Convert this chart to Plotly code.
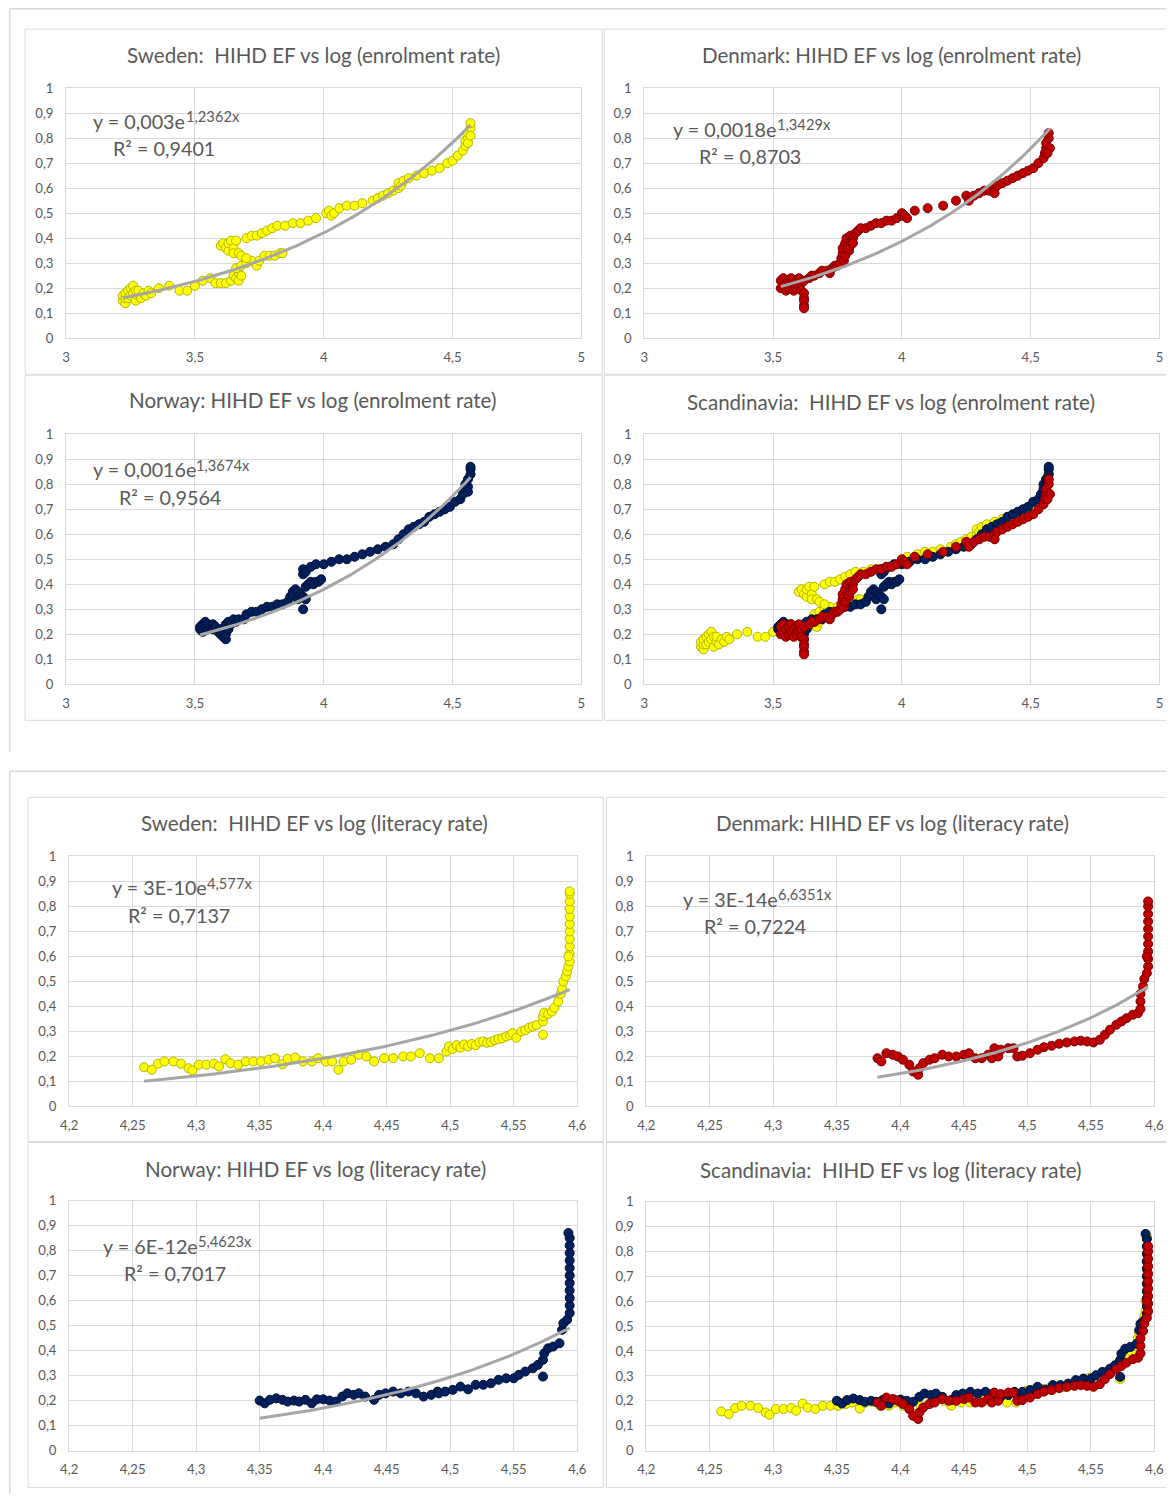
import numpy as np
import plotly.graph_objects as go

# ---------------------------------------------------------------------------
# Data: HIHD EF against log(enrolment rate) and log(literacy rate)
# ---------------------------------------------------------------------------
swe_enrol_x = [
    3.22, 3.22, 3.23, 3.23, 3.23, 3.24, 3.24, 3.25, 3.25, 3.26,
    3.26, 3.27, 3.27, 3.28, 3.28, 3.29, 3.30, 3.31, 3.32, 3.33,
    3.36, 3.40, 3.44, 3.47, 3.50, 3.53, 3.56, 3.58, 3.60, 3.62,
    3.64, 3.65, 3.66, 3.67, 3.67, 3.68, 3.66, 3.68, 3.70, 3.72,
    3.74, 3.75, 3.77, 3.79, 3.81, 3.83, 3.84, 3.60, 3.61, 3.62,
    3.63, 3.63, 3.64, 3.65, 3.65, 3.66, 3.67, 3.68, 3.70, 3.70,
    3.72, 3.74, 3.76, 3.78, 3.80, 3.82, 3.85, 3.88, 3.91, 3.94,
    3.97, 4.01, 4.02, 4.03, 4.04, 4.06, 4.09, 4.12, 4.15, 4.19,
    4.21, 4.23, 4.25, 4.27, 4.29, 4.29, 4.30, 4.31, 4.33, 4.36,
    4.39, 4.42, 4.45, 4.48, 4.50, 4.52, 4.54, 4.55, 4.55, 4.56,
    4.56, 4.57, 4.57, 4.56, 4.57,
]
swe_enrol_y = [
    0.15, 0.17, 0.14, 0.16, 0.18, 0.19, 0.16, 0.20, 0.17, 0.21,
    0.18, 0.15, 0.19, 0.17, 0.19, 0.16, 0.18, 0.17, 0.19, 0.18,
    0.20, 0.21, 0.19, 0.19, 0.21, 0.23, 0.24, 0.22, 0.22, 0.22,
    0.23, 0.25, 0.24, 0.26, 0.23, 0.25, 0.28, 0.29, 0.30, 0.31,
    0.29, 0.31, 0.33, 0.33, 0.33, 0.34, 0.34, 0.37, 0.38, 0.36,
    0.35, 0.38, 0.39, 0.36, 0.34, 0.39, 0.34, 0.33, 0.32, 0.40,
    0.41, 0.41, 0.42, 0.43, 0.44, 0.45, 0.45, 0.46, 0.46, 0.47,
    0.48, 0.50, 0.51, 0.49, 0.50, 0.52, 0.53, 0.53, 0.54, 0.55,
    0.56, 0.57, 0.58, 0.59, 0.60, 0.62, 0.61, 0.63, 0.64, 0.65,
    0.66, 0.67, 0.68, 0.70, 0.71, 0.73, 0.75, 0.77, 0.79, 0.80,
    0.82, 0.84, 0.86, 0.78, 0.81,
]

den_enrol_x = [
    3.53, 3.53, 3.54, 3.54, 3.55, 3.55, 3.56, 3.56, 3.57, 3.57,
    3.58, 3.58, 3.59, 3.59, 3.60, 3.60, 3.61, 3.61, 3.62, 3.62,
    3.62, 3.62, 3.62, 3.62, 3.64, 3.65, 3.66, 3.68, 3.69, 3.71,
    3.72, 3.73, 3.74, 3.75, 3.76, 3.765, 3.77, 3.77, 3.775, 3.78,
    3.78, 3.785, 3.79, 3.795, 3.80, 3.80, 3.81, 3.79, 3.80, 3.81,
    3.82, 3.83, 3.84, 3.86, 3.88, 3.90, 3.92, 3.94, 3.96, 3.98,
    4.00, 4.00, 4.01, 4.02, 4.05, 4.10, 4.16, 4.21, 4.25, 4.26,
    4.28, 4.30, 4.32, 4.34, 4.36, 4.36, 4.37, 4.39, 4.41, 4.43,
    4.45, 4.47, 4.49, 4.51, 4.53, 4.55, 4.555, 4.56, 4.56, 4.57,
    4.57, 4.575, 4.565,
]
den_enrol_y = [
    0.23, 0.20, 0.24, 0.21, 0.22, 0.19, 0.23, 0.20, 0.24, 0.21,
    0.22, 0.19, 0.23, 0.20, 0.24, 0.21, 0.22, 0.19, 0.23, 0.18,
    0.16, 0.15, 0.13, 0.12, 0.24, 0.25, 0.25, 0.26, 0.27, 0.27,
    0.26, 0.28, 0.29, 0.29, 0.30, 0.32, 0.34, 0.36, 0.31, 0.33,
    0.38, 0.40, 0.37, 0.35, 0.39, 0.41, 0.40, 0.36, 0.37, 0.38,
    0.42, 0.43, 0.44, 0.44, 0.45, 0.46, 0.46, 0.47, 0.47, 0.48,
    0.49, 0.50, 0.49, 0.48, 0.51, 0.52, 0.53, 0.55, 0.57, 0.55,
    0.57, 0.58, 0.59, 0.59, 0.60, 0.58, 0.61, 0.62, 0.63, 0.64,
    0.65, 0.66, 0.67, 0.68, 0.70, 0.72, 0.74, 0.76, 0.78, 0.80,
    0.82, 0.76, 0.74,
]

nor_enrol_x = [
    3.52, 3.52, 3.53, 3.53, 3.54, 3.54, 3.55, 3.55, 3.56, 3.57,
    3.57, 3.58, 3.59, 3.60, 3.60, 3.61, 3.61, 3.62, 3.62, 3.63,
    3.62, 3.63, 3.64, 3.65, 3.66, 3.67, 3.69, 3.70, 3.72, 3.74,
    3.76, 3.78, 3.80, 3.82, 3.84, 3.86, 3.87, 3.88, 3.88, 3.89,
    3.90, 3.90, 3.91, 3.92, 3.92, 3.93, 3.93, 3.94, 3.95, 3.96,
    3.97, 3.98, 3.99, 3.92, 3.92, 3.93, 3.95, 3.97, 4.00, 4.03,
    4.06, 4.09, 4.12, 4.15, 4.18, 4.21, 4.24, 4.27, 4.29, 4.31,
    4.33, 4.35, 4.37, 4.39, 4.41, 4.43, 4.45, 4.47, 4.49, 4.51,
    4.53, 4.54, 4.55, 4.55, 4.56, 4.56, 4.57, 4.57, 4.57, 4.56,
]
nor_enrol_y = [
    0.23, 0.22, 0.24, 0.21, 0.23, 0.25, 0.22, 0.24, 0.23, 0.24,
    0.22, 0.23, 0.21, 0.22, 0.20, 0.19, 0.21, 0.18, 0.20, 0.22,
    0.24, 0.25, 0.24, 0.26, 0.25, 0.26, 0.26, 0.28, 0.29, 0.29,
    0.30, 0.31, 0.31, 0.32, 0.32, 0.33, 0.35, 0.37, 0.36, 0.38,
    0.37, 0.34, 0.36, 0.30, 0.35, 0.34, 0.39, 0.40, 0.41, 0.40,
    0.41, 0.41, 0.42, 0.44, 0.46, 0.45, 0.47, 0.48, 0.48, 0.49,
    0.50, 0.50, 0.51, 0.52, 0.53, 0.54, 0.55, 0.56, 0.58, 0.60,
    0.62, 0.63, 0.64, 0.65, 0.67, 0.68, 0.69, 0.70, 0.71, 0.73,
    0.74, 0.76, 0.78, 0.80, 0.79, 0.82, 0.84, 0.86, 0.87, 0.77,
]

swe_lit_x = [
    4.259, 4.265, 4.270, 4.275, 4.282, 4.288, 4.294, 4.297, 4.302, 4.308,
    4.314, 4.318, 4.323, 4.327, 4.333, 4.339, 4.345, 4.351, 4.357, 4.362,
    4.368, 4.372, 4.378, 4.384, 4.391, 4.396, 4.402, 4.407, 4.412, 4.416,
    4.422, 4.428, 4.434, 4.440, 4.448, 4.455, 4.463, 4.469, 4.476, 4.484,
    4.491, 4.497, 4.499, 4.502, 4.505, 4.508, 4.511, 4.514, 4.517, 4.520,
    4.523, 4.526, 4.529, 4.532, 4.535, 4.538, 4.541, 4.544, 4.547, 4.549,
    4.552, 4.556, 4.559, 4.562, 4.565, 4.568, 4.573, 4.573, 4.573, 4.574,
    4.577, 4.580, 4.582, 4.585, 4.587, 4.588, 4.589, 4.591, 4.592, 4.593,
    4.594, 4.594, 4.594, 4.594, 4.594, 4.594, 4.594, 4.594, 4.594, 4.594,
    4.594, 4.593,
]
swe_lit_y = [
    0.157, 0.147, 0.171, 0.180, 0.180, 0.171, 0.153, 0.144, 0.167, 0.167,
    0.171, 0.160, 0.189, 0.173, 0.167, 0.180, 0.180, 0.180, 0.187, 0.193,
    0.169, 0.191, 0.196, 0.180, 0.180, 0.193, 0.180, 0.180, 0.147, 0.180,
    0.187, 0.207, 0.200, 0.180, 0.193, 0.193, 0.200, 0.200, 0.213, 0.193,
    0.193, 0.220, 0.240, 0.230, 0.245, 0.235, 0.248, 0.240, 0.250, 0.245,
    0.257, 0.260, 0.255, 0.258, 0.265, 0.270, 0.273, 0.280, 0.285, 0.293,
    0.275, 0.300, 0.305, 0.315, 0.320, 0.325, 0.287, 0.340, 0.360, 0.375,
    0.370, 0.380, 0.395, 0.420, 0.450, 0.470, 0.500, 0.520, 0.540, 0.560,
    0.580, 0.610, 0.640, 0.670, 0.700, 0.730, 0.760, 0.790, 0.820, 0.850,
    0.860, 0.600,
]

den_lit_x = [
    4.382, 4.385, 4.389, 4.394, 4.398, 4.402, 4.407, 4.410, 4.414, 4.415,
    4.418, 4.423, 4.427, 4.433, 4.438, 4.444, 4.450, 4.454, 4.459, 4.464,
    4.469, 4.472, 4.474, 4.477, 4.479, 4.485, 4.489, 4.492, 4.496, 4.502,
    4.508, 4.513, 4.519, 4.525, 4.531, 4.537, 4.542, 4.547, 4.552, 4.557,
    4.561, 4.565, 4.570, 4.574, 4.578, 4.583, 4.587, 4.589, 4.589, 4.589,
    4.591, 4.592, 4.594, 4.595, 4.595, 4.595, 4.595, 4.595, 4.595, 4.595,
    4.595, 4.595, 4.595, 4.594,
]
den_lit_y = [
    0.193, 0.180, 0.213, 0.207, 0.200, 0.187, 0.167, 0.140, 0.127, 0.153,
    0.173, 0.187, 0.193, 0.207, 0.200, 0.200, 0.207, 0.213, 0.193, 0.193,
    0.207, 0.193, 0.233, 0.200, 0.227, 0.233, 0.233, 0.200, 0.203, 0.213,
    0.227, 0.237, 0.243, 0.251, 0.256, 0.260, 0.263, 0.260, 0.256, 0.267,
    0.287, 0.307, 0.327, 0.340, 0.353, 0.367, 0.373, 0.390, 0.420, 0.450,
    0.480, 0.510, 0.533, 0.560, 0.590, 0.620, 0.650, 0.680, 0.710, 0.740,
    0.770, 0.800, 0.820, 0.600,
]

nor_lit_x = [
    4.350, 4.354, 4.358, 4.363, 4.368, 4.372, 4.377, 4.381, 4.386, 4.391,
    4.395, 4.400, 4.405, 4.410, 4.415, 4.419, 4.424, 4.428, 4.433, 4.440,
    4.444, 4.449, 4.455, 4.461, 4.467, 4.473, 4.479, 4.485, 4.490, 4.491,
    4.496, 4.502, 4.508, 4.514, 4.520, 4.526, 4.532, 4.538, 4.544, 4.550,
    4.554, 4.559, 4.565, 4.569, 4.573, 4.573, 4.574, 4.577, 4.581, 4.586,
    4.588, 4.589, 4.592, 4.594, 4.594, 4.594, 4.594, 4.594, 4.594, 4.594,
    4.594, 4.594, 4.594, 4.594, 4.593,
]
nor_lit_y = [
    0.200, 0.189, 0.203, 0.209, 0.203, 0.196, 0.200, 0.196, 0.203, 0.189,
    0.205, 0.205, 0.200, 0.196, 0.216, 0.229, 0.223, 0.229, 0.216, 0.203,
    0.223, 0.229, 0.236, 0.229, 0.236, 0.229, 0.216, 0.223, 0.236, 0.229,
    0.236, 0.243, 0.256, 0.245, 0.263, 0.263, 0.269, 0.283, 0.289, 0.289,
    0.303, 0.316, 0.329, 0.343, 0.296, 0.363, 0.389, 0.409, 0.416, 0.429,
    0.483, 0.509, 0.523, 0.550, 0.580, 0.610, 0.640, 0.670, 0.700, 0.730,
    0.760, 0.790, 0.820, 0.850, 0.870,
]

# Exponential trend lines y = a * exp(b * x) (Sweden, Denmark, Norway)
enrol_fit_a = [0.003, 0.0018, 0.0016]
enrol_fit_b = [1.2362, 1.3429, 1.3674]
enrol_fit_r2 = [0.9401, 0.8703, 0.9564]
lit_fit_a = [3.45e-10, 2.75e-14, 6.2e-12]
lit_fit_b = [4.577, 6.6351, 5.4623]
lit_fit_r2 = [0.7137, 0.7224, 0.7017]

countries = ["Sweden", "Denmark", "Norway"]

# Axis ticks
enrol_x_ticks = [3, 3.5, 4, 4.5, 5]
enrol_x_labels = ["3", "3,5", "4", "4,5", "5"]
lit_x_ticks = [4.2, 4.25, 4.3, 4.35, 4.4, 4.45, 4.5, 4.55, 4.6]
lit_x_labels = ["4,2", "4,25", "4,3", "4,35", "4,4", "4,45", "4,5", "4,55", "4,6"]
y_ticks = [0, 0.1, 0.2, 0.3, 0.4, 0.5, 0.6, 0.7, 0.8, 0.9, 1]
y_labels = ["0", "0,1", "0,2", "0,3", "0,4", "0,5", "0,6", "0,7", "0,8", "0,9", "1"]

# ---------------------------------------------------------------------------
# Page geometry: positions below are given in final page pixels; the page
# is shown slightly scaled (SX, SY) with an 8 px body margin around the figure.
# ---------------------------------------------------------------------------
PAD = 8
SX, SY = 0.9844, 0.989
W, H = 1176, 1503            # figure size
FONT = "Lato"
TEXT = "#595959"
GRID = "#d9d9d9"
TREND = "#a6a6a6"
COLORS = {
    "Sweden": ("#ffff00", "#b3b300"),
    "Denmark": ("#c00000", "#7a0000"),
    "Norway": ("#002060", "#00102f"),
}


def fx(x):
    return min(max(x / SX - PAD, 0.75), W - 0.75)


def fy(y):
    return min(max(y / SY - PAD, 0.75), H - 0.75)


def px(x):
    return fx(x) / W


def py(y):
    return 1 - fy(y) / H


def fs(size):
    return size / ((SX + SY) / 2)


def dec(v, nd):
    s = f"{v:.{nd}f}".rstrip("0").rstrip(".")
    return s.replace(".", ",")


def coef_text(a):
    if a >= 1e-4:
        return f"{a:.4g}".replace(".", ",")
    return f"{a:.0E}"


enrol_sets = [(swe_enrol_x, swe_enrol_y), (den_enrol_x, den_enrol_y), (nor_enrol_x, nor_enrol_y)]
lit_sets = [(swe_lit_x, swe_lit_y), (den_lit_x, den_lit_y), (nor_lit_x, nor_lit_y)]

# plot areas: left, right, top, bottom
areas = [
    (65, 580, 88, 338),
    (643, 1158, 88, 338),
    (65, 580, 434, 684),
    (643, 1158, 434, 684),
    (68, 576, 856, 1106),
    (645, 1153, 856, 1106),
    (68, 576, 1200, 1450),
    (645, 1153, 1201, 1450),
]
# chart boxes: left, right, top, bottom, right edge visible
boxes = [
    (24, 601, 29, 374, True),
    (603, 1174, 29, 374, False),
    (24, 601, 375, 720, True),
    (603, 1174, 375, 720, False),
    (27, 602, 797, 1141, True),
    (605, 1174, 797, 1141, False),
    (27, 602, 1142, 1487, True),
    (605, 1174, 1142, 1487, False),
]
titles = [
    "Sweden:  HIHD EF vs log (enrolment rate)",
    "Denmark: HIHD EF vs log (enrolment rate)",
    "Norway: HIHD EF vs log (enrolment rate)",
    "Scandinavia:  HIHD EF vs log (enrolment rate)",
    "Sweden:  HIHD EF vs log (literacy rate)",
    "Denmark: HIHD EF vs log (literacy rate)",
    "Norway: HIHD EF vs log (literacy rate)",
    "Scandinavia:  HIHD EF vs log (literacy rate)",
]
title_pos = [(312, 55), (890, 55), (312, 400), (890, 402),
             (313, 823), (891, 823), (314, 1168), (890, 1169)]
# equation label anchors:
# (equation left x, equation y, exponent left x, exponent y, R² left x, R² y)
eq_pos = [(90, 121, 183, 116, 110, 148),
          (670, 129, 774, 124, 696, 156),
          (90, 469, 193, 465, 116, 497),
          None,
          (109, 887, 204, 883, 125, 915),
          (680, 899, 775, 894, 701, 926),
          (100, 1245, 195, 1241, 121, 1272),
          None]

fig = go.Figure()
annotations = []
shapes = []


def add_points(panel, xs, ys, country):
    fill, edge = COLORS[country]
    sfx = "" if panel == 1 else str(panel)
    fig.add_trace(go.Scatter(
        x=xs, y=ys, mode="markers", xaxis="x" + sfx, yaxis="y" + sfx,
        marker=dict(size=9, color=fill, line=dict(color=edge, width=1)),
        name=country, hoverinfo="x+y",
    ))


def add_trend(panel, xs, a, b):
    sfx = "" if panel == 1 else str(panel)
    tx = np.linspace(min(xs), max(xs), 120)
    ty = a * np.exp(b * tx)
    fig.add_trace(go.Scatter(
        x=tx, y=ty, mode="lines", xaxis="x" + sfx, yaxis="y" + sfx,
        line=dict(color=TREND, width=3), hoverinfo="skip",
    ))


def note(text, x, y, size, anchor="left"):
    annotations.append(dict(text=text, x=px(x), y=py(y),
                            xref="paper", yref="paper", xanchor=anchor,
                            yanchor="middle", showarrow=False,
                            font=dict(family=FONT, size=fs(size), color=TEXT)))


def hline(x0, x1, y, width=1.0):
    shapes.append(dict(type="line", xref="paper", yref="paper",
                       x0=px(x0), x1=px(x1), y0=py(y), y1=py(y),
                       line=dict(color=GRID, width=width), layer="below"))


def vline(x, y0, y1, width=1.0):
    shapes.append(dict(type="line", xref="paper", yref="paper",
                       x0=px(x), x1=px(x), y0=py(y0), y1=py(y1),
                       line=dict(color=GRID, width=width), layer="below"))


# single-country panels
for i in range(3):
    panel = [1, 2, 3][i]
    xs, ys = enrol_sets[i]
    add_points(panel, xs, ys, countries[i])
    add_trend(panel, xs, enrol_fit_a[i], enrol_fit_b[i])
for i in range(3):
    panel = [5, 6, 7][i]
    xs, ys = lit_sets[i]
    add_points(panel, xs, ys, countries[i])
    add_trend(panel, xs, lit_fit_a[i], lit_fit_b[i])

# Scandinavia panels: Sweden, then Norway, then Denmark on top
for panel, sets in ((4, enrol_sets), (8, lit_sets)):
    for i in (0, 2, 1):
        add_points(panel, sets[i][0], sets[i][1], countries[i])

layout = dict(
    width=W, height=H, autosize=False, margin=dict(l=0, r=0, t=0, b=0),
    paper_bgcolor="white", plot_bgcolor="white", showlegend=False,
    font=dict(family=FONT, color=TEXT),
)

for p in range(1, 9):
    left, right, top, bottom = areas[p - 1]
    enrol = p <= 4
    sfx = "" if p == 1 else str(p)
    layout["xaxis" + sfx] = dict(
        domain=[px(left), px(right)], anchor="y" + sfx,
        range=[3, 5] if enrol else [4.2, 4.6],
        tickmode="array",
        tickvals=enrol_x_ticks if enrol else lit_x_ticks,
        ticktext=enrol_x_labels if enrol else lit_x_labels,
        showgrid=True, gridcolor=GRID, gridwidth=1,
        showline=True, linecolor=GRID, linewidth=1, mirror=True,
        zeroline=False, ticks="outside", ticklen=7, tickcolor="rgba(0,0,0,0)",
        tickfont=dict(family=FONT, size=fs(13), color=TEXT), fixedrange=True,
    )
    layout["yaxis" + sfx] = dict(
        domain=[py(bottom), py(top)], anchor="x" + sfx,
        range=[0, 1], tickmode="array", tickvals=y_ticks, ticktext=y_labels,
        showgrid=True, gridcolor=GRID, gridwidth=1,
        showline=True, linecolor=GRID, linewidth=1, mirror=True,
        zeroline=False, ticks="outside", ticklen=9, tickcolor="rgba(0,0,0,0)",
        tickfont=dict(family=FONT, size=fs(13), color=TEXT), fixedrange=True,
    )

    # chart box
    bl, br, bt, bb, right_edge = boxes[p - 1]
    hline(bl, br, bt)
    hline(bl, br, bb)
    vline(bl, bt, bb)
    if right_edge:
        vline(br, bt, bb)

    tx, ty = title_pos[p - 1]
    note(titles[p - 1], tx, ty, 20.3, anchor="center")

    eq = eq_pos[p - 1]
    if eq is not None:
        k = (p - 1) % 4
        if enrol:
            a, b, r2 = enrol_fit_a[k], enrol_fit_b[k], enrol_fit_r2[k]
        else:
            a, b, r2 = lit_fit_a[k], lit_fit_b[k], lit_fit_r2[k]
        note(f"y = {coef_text(a)}e", eq[0], eq[1], 19.5)
        note(f"{dec(b, 4)}x", eq[2], eq[3], 14.5)
        note(f"R² = {dec(r2, 4)}", eq[4], eq[5], 19.5)

# outer frames of the two chart groups
hline(6, 1174, 6, 1.5)
vline(6, 6, 752, 1.5)
hline(6, 1174, 771, 1.5)
vline(6, 771, 1503, 1.5)

layout["annotations"] = annotations
layout["shapes"] = shapes
fig.update_layout(**layout)

fig.write_html("out.html", config={"displayModeBar": False})
